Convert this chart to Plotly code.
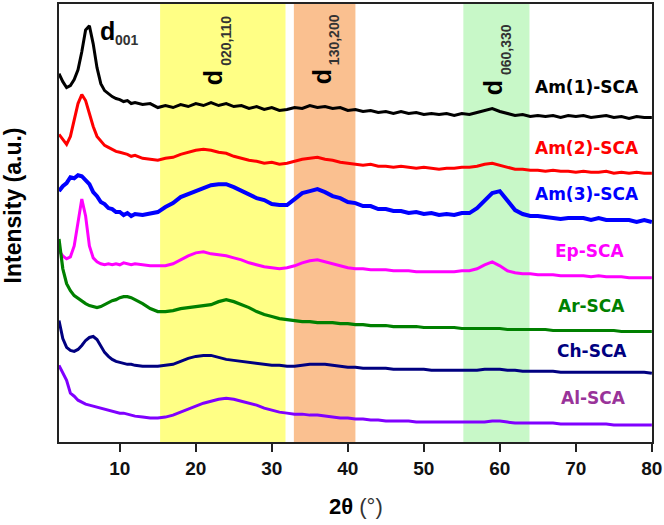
import plotly.graph_objects as go

# 2-theta grid (degrees)
two_theta = [2, 2.5, 3, 3.5, 4, 4.5, 5, 5.5, 6, 6.5, 7, 7.5, 8, 8.5, 9, 9.5, 10, 10.5, 11, 11.5, 12,
             13, 14, 15, 16, 17, 18, 19, 20, 21, 22, 23, 24, 25, 26, 27, 28, 29, 30,
             31, 32, 33, 34, 35, 36, 37, 38, 39, 40, 41, 42, 43, 44, 45, 46, 47, 48, 49, 50,
             51, 52, 53, 54, 55, 56, 57, 58, 59, 60, 61, 62, 63, 64, 65, 66, 67, 68, 69, 70,
             71, 72, 73, 74, 75, 76, 77, 78, 79, 80]

# stacked intensities (a.u.)
am1 = [370, 362, 356, 358, 364, 374, 392, 414, 418, 400, 376, 360, 353, 350, 347, 345, 344, 342, 343, 340, 341,
       339, 340, 336, 338, 336, 339, 337, 340, 338, 341,
       338, 340, 337, 338, 335, 337, 334, 336, 333, 334,
       336, 335, 338, 336, 337, 335, 336, 333, 334, 332,
       333, 331, 332, 330, 332, 330, 331, 329, 330, 329,
       330, 328, 330, 329, 331, 333, 335, 332, 330, 328,
       329, 327, 328, 327, 328, 326, 328, 327, 328, 326,
       327, 328, 326, 327, 325, 327, 326, 326]
am2 = [309, 304, 299, 307, 324, 340, 349, 343, 330, 317, 307, 302, 298, 296, 294, 292, 291, 290, 289, 287, 288,
       285, 284, 283, 285, 286, 289, 291, 293, 294, 293,
       291, 290, 287, 285, 283, 282, 280, 281, 279, 280,
       282, 284, 285, 286, 284, 283, 281, 280, 279, 278,
       279, 277, 277, 276, 277, 276, 275, 276, 275, 274,
       275, 275, 276, 276, 277, 279, 280, 278, 276, 274,
       274, 273, 273, 272, 273, 272, 272, 271, 272, 271,
       271, 272, 270, 271, 270, 271, 270, 270]
am3 = [252, 257, 260, 266, 265, 268, 267, 263, 259, 251, 247, 241, 239, 235, 234, 231, 231, 228, 230, 227, 229,
       228, 230, 231, 236, 240, 246, 249, 253, 255, 258,
       259, 259, 256, 252, 249, 245, 243, 239, 238, 238,
       244, 250, 252, 254, 251, 247, 245, 241, 240, 237,
       237, 234, 234, 232, 232, 230, 231, 229, 230, 228,
       229, 228, 230, 230, 235, 243, 250, 252, 242, 233,
       229, 227, 227, 226, 226, 224, 225, 225, 225, 223,
       225, 223, 223, 223, 223, 221, 223, 221]
ep = [192, 187, 184, 186, 197, 222, 244, 227, 197, 185, 181, 179, 178, 179, 178, 179, 178, 180, 179, 178, 179,
      178, 177, 177, 177, 179, 183, 187, 190, 191, 189,
      188, 187, 185, 183, 180, 178, 176, 175, 174, 175,
      177, 180, 182, 183, 181, 179, 177, 175, 174, 174,
      173, 173, 173, 172, 172, 172, 171, 171, 171, 171,
      171, 171, 172, 172, 174, 178, 181, 177, 172, 170,
      169, 169, 168, 168, 168, 167, 167, 167, 167, 166,
      167, 166, 166, 166, 165, 165, 165, 165]
ar = [204, 174, 159, 152, 147, 144, 142, 139, 137, 136, 135, 136, 138, 140, 142, 143, 145, 146, 146, 145, 143,
      139, 134, 131, 131, 132, 134, 135, 136, 137, 138,
      141, 143, 141, 138, 135, 131, 128, 126, 124, 123,
      122, 121, 121, 120, 120, 120, 119, 119, 118, 118,
      117, 117, 117, 116, 116, 116, 116, 115, 115, 115,
      115, 115, 114, 114, 114, 114, 114, 114, 113, 113,
      113, 113, 113, 113, 112, 112, 112, 112, 112, 112,
      112, 112, 112, 111, 111, 111, 111, 111]
ch = [122, 104, 95, 92, 91, 93, 97, 102, 105, 106, 103, 97, 90, 86, 83, 81, 80, 79, 78, 78, 77,
      76, 76, 76, 77, 78, 81, 84, 86, 87, 87,
      85, 83, 82, 81, 80, 79, 78, 77, 77, 76,
      76, 77, 78, 78, 78, 77, 76, 75, 75, 74,
      74, 74, 74, 73, 73, 73, 73, 73, 72, 72,
      72, 72, 72, 72, 72, 73, 73, 73, 72, 72,
      71, 71, 71, 71, 71, 70, 70, 70, 70, 70,
      70, 70, 70, 70, 70, 70, 70, 69]
al = [77, 70, 62, 49, 46, 42, 40, 38, 37, 36, 35, 34, 33, 32, 31, 30, 29, 29, 28, 27, 26,
      25, 24, 24, 25, 27, 30, 33, 36, 39, 41,
      43, 44, 43, 41, 39, 37, 34, 32, 30, 29,
      28, 28, 27, 27, 26, 25, 24, 24, 23, 23,
      22, 22, 21, 21, 21, 21, 20, 20, 20, 20,
      20, 20, 20, 20, 20, 20, 21, 21, 20, 19,
      19, 19, 19, 19, 19, 18, 18, 18, 18, 18,
      18, 18, 17, 17, 17, 17, 17, 17]

series_names = ["Am(1)-SCA", "Am(2)-SCA", "Am(3)-SCA", "Ep-SCA", "Ar-SCA", "Ch-SCA", "Al-SCA"]
series_data = [am1, am2, am3, ep, ar, ch, al]
line_colors = ["#000000", "#ff0000", "#0000ff", "#ff00ff", "#008000", "#000080", "#8000ff"]
line_widths = [3, 3, 4, 3, 3.2, 3, 3]
label_colors = ["#000000", "#ff0000", "#0000ff", "#ff00ff", "#008000", "#000080", "#993399"]
label_x = [71.5, 71.5, 71.5, 71.8, 72.0, 72.1, 72.3]
label_y = [357, 295, 249, 192, 137, 91, 44]

# highlighted 2-theta bands
band_ranges = [(15.3, 31.8), (32.9, 41.0), (55.2, 63.9)]
band_colors = ["#ffff85", "#fac090", "#c8f8c8"]

# rotated reflection labels: "d" letter centre and subscript centre (2-theta, intensity units)
rot_sub = ["020,110", "130,200", "060,330"]
rot_d_x = [22.06, 36.35, 58.9]
rot_d_y = [366, 367, 356]
rot_sub_x = [23.9, 38.05, 60.73]
rot_sub_y = [403, 404, 394]

fig = go.Figure()
for name, ys, c, w in zip(series_names, series_data, line_colors, line_widths):
    fig.add_trace(go.Scatter(x=two_theta, y=ys, mode="lines", name=name,
                             line=dict(color=c, width=w), showlegend=False))

for (x0, x1), c in zip(band_ranges, band_colors):
    fig.add_shape(type="rect", xref="x", yref="paper", x0=x0, x1=x1, y0=0, y1=1,
                  fillcolor=c, line=dict(width=0), layer="below")

for name, c, lx, ly in zip(series_names, label_colors, label_x, label_y):
    fig.add_annotation(x=lx, y=ly, text=name, showarrow=False, xanchor="center", yanchor="middle",
                       font=dict(family="DejaVu Sans", size=17, color=c, weight="bold"))

D_FONT = dict(family="Liberation Sans", size=25, color="#000000", weight="bold")
SUB_FONT = dict(family="Liberation Sans", size=14, color="#333333", weight="bold")

# d001 (horizontal)
fig.add_annotation(x=8.36, y=413, text="d", showarrow=False, xanchor="center", yanchor="middle", font=D_FONT)
fig.add_annotation(x=10.98, y=404, text="001", showarrow=False, xanchor="center", yanchor="middle", font=SUB_FONT)

# rotated labels drawn as labels of invisible rectangles
for s, dx, dy, sx, sy in zip(rot_sub, rot_d_x, rot_d_y, rot_sub_x, rot_sub_y):
    fig.add_shape(type="rect", xref="x", yref="y", x0=dx - 0.3, x1=dx + 0.3, y0=dy - 3, y1=dy + 3,
                  line=dict(width=0), fillcolor="rgba(0,0,0,0)",
                  label=dict(text="d", textangle=-90, textposition="middle center", padding=0,
                             font=D_FONT))
    fig.add_shape(type="rect", xref="x", yref="y", x0=sx - 0.3, x1=sx + 0.3, y0=sy - 3, y1=sy + 3,
                  line=dict(width=0), fillcolor="rgba(0,0,0,0)",
                  label=dict(text=s, textangle=-90, textposition="middle center", padding=0,
                             font=SUB_FONT))

fig.add_annotation(xref="paper", yref="paper", x=-0.077, y=0.541, textangle=-90, showarrow=False,
                   xanchor="center", yanchor="middle", text="Intensity (a.u.)",
                   font=dict(family="Liberation Sans", size=23, color="#000000", weight="bold"))
fig.add_annotation(xref="paper", yref="paper", x=0.5, y=-0.148, showarrow=False,
                   xanchor="center", yanchor="middle", text="<b>2θ</b> <span style='color:#333333'>(°)</span>",
                   font=dict(family="Liberation Sans", size=22, color="#000000"))

fig.update_layout(
    width=664, height=525,
    margin=dict(l=59, r=10, t=2, b=83),
    paper_bgcolor="white", plot_bgcolor="white",
    xaxis=dict(range=[2, 80.02], tickvals=[10, 20, 30, 40, 50, 60, 70, 80],
               ticks="outside", ticklen=8, tickwidth=1.5, tickcolor="#222",
               showline=True, linecolor="#222", linewidth=1.5, mirror=True,
               showgrid=False, zeroline=False, ticklabeloverflow="allow",
               tickfont=dict(family="Liberation Sans", size=19, color="#111", weight="bold")),
    yaxis=dict(range=[0, 440], showticklabels=False, ticks="",
               showline=True, linecolor="#222", linewidth=1.5, mirror=True,
               showgrid=False, zeroline=False),
)

fig.write_html("out.html")
